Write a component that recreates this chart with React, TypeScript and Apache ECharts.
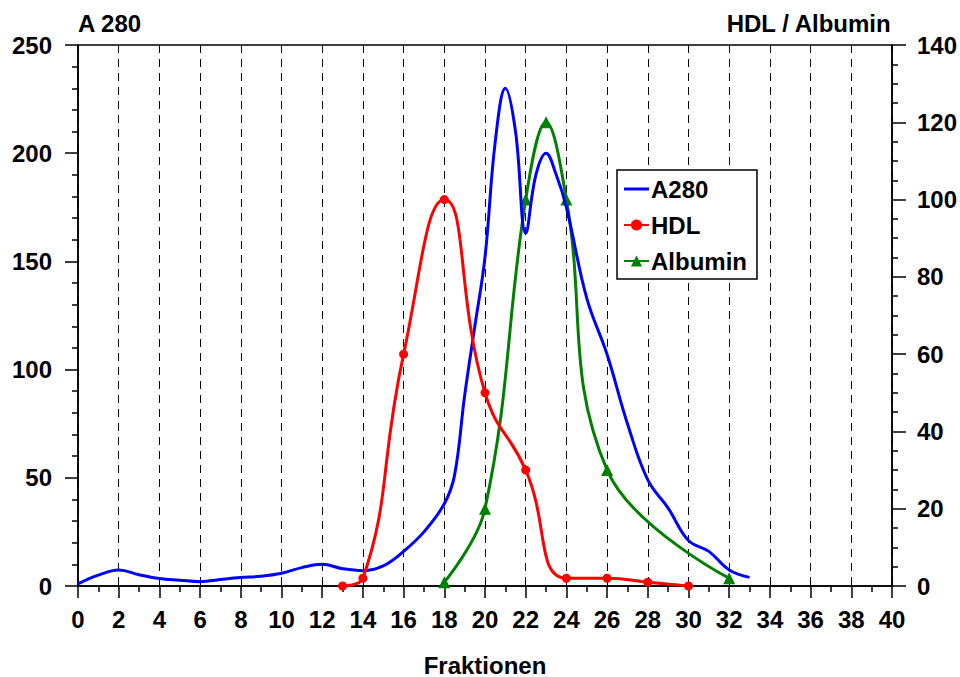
import React, { useEffect, useRef } from "react";
import * as echarts from "echarts";

const a280Data: [number, number][] = [
  [0, 1], [1, 5], [2, 7.4], [3, 5.2], [4, 3.5], [5, 2.7], [6, 2], [7, 3], [8, 3.9], [9, 4.5],
  [10, 5.9], [11, 8.5], [12, 10], [13, 8], [14, 7.1], [15, 9.3], [16, 16], [17, 25], [18, 38],
  [18.5, 51], [19, 88], [19.5, 120], [20, 152], [20.5, 205], [21, 230], [21.5, 210], [22, 163],
  [22.5, 190], [23, 200], [23.5, 190], [24, 175], [25, 133], [26, 107], [27, 75], [28, 49],
  [29, 36], [30, 21], [31, 16], [32, 7.4], [33, 4],
];
const hdlData: [number, number][] = [
  [13, 0], [14, 2], [16, 60], [18, 100], [20, 50], [22, 30], [24, 2], [26, 2], [28, 1], [30, 0],
];
const albuminData: [number, number][] = [
  [18, 1], [20, 20], [22, 100], [23, 120], [24, 100], [26, 30], [32, 2],
];
const xTitle = "Fraktionen";
const leftTitle = "A 280";
const rightTitle = "HDL / Albumin";

const FONT = "Liberation Sans, Arial, Helvetica, sans-serif";
const FS = 24;

export default function App() {
  const ref = useRef<HTMLDivElement>(null);
  useEffect(() => {
    if (!ref.current) return;
    const chart = echarts.init(ref.current, undefined, { renderer: "svg" });
    const labelStyle = { color: "#000", fontWeight: "bold" as const, fontSize: FS, fontFamily: FONT };
    chart.setOption({
      animation: false,
      backgroundColor: "#fff",
      grid: {
        left: 78, right: 68, top: 45, bottom: 91,
        outerBoundsMode: "none",
        containLabel: false,
        show: true, borderColor: "#000", borderWidth: 1.5, backgroundColor: "transparent",
      },
      legend: {
        orient: "vertical",
        left: 617,
        top: 170,
        padding: [7, 10, 6, 6],
        itemGap: 12,
        itemWidth: 25,
        itemHeight: 14,
        borderColor: "#000",
        borderWidth: 1.5,
        backgroundColor: "#fff",
        textStyle: { color: "#000", fontWeight: "bold", fontSize: FS, fontFamily: FONT, padding: [0, 0, 0, -3] },
        data: [
          { name: "A280", icon: "path://M0,0M0,5.5H25V8.5H0ZM25,14" },
          { name: "HDL" },
          { name: "Albumin" },
        ],
      },
      graphic: [
        { type: "text", left: 78, top: 11, style: { text: leftTitle, fill: "#000", font: `bold ${FS}px ${FONT}` } },
        { type: "text", right: 68, top: 11, style: { text: rightTitle, fill: "#000", font: `bold ${FS}px ${FONT}` } },
        {
          type: "text", x: 485, y: 665,
          style: { text: xTitle, fill: "#000", font: `bold ${FS}px ${FONT}`, align: "center", verticalAlign: "middle" },
        },
      ],
      xAxis: {
        type: "value",
        min: 0,
        max: 40,
        interval: 2,
        axisLine: { show: true, lineStyle: { color: "#000", width: 1.5 } },
        axisTick: { show: true, length: 12, lineStyle: { color: "#000", width: 1.5 } },
        minorTick: { show: true, splitNumber: 2, length: 6, lineStyle: { color: "#000", width: 1.5 } },
        axisLabel: { ...labelStyle, margin: 21 },
        splitLine: { show: true, lineStyle: { color: "#000", type: [8, 6], width: 1 } },
      },
      yAxis: [
        {
          type: "value",
          min: 0,
          max: 250,
          interval: 50,
          position: "left",
          axisLine: { show: true, lineStyle: { color: "#000", width: 1.5 } },
          axisTick: { show: true, length: 13, lineStyle: { color: "#000", width: 1.5 } },
          minorTick: { show: true, splitNumber: 5, length: 6, lineStyle: { color: "#000", width: 1.5 } },
          axisLabel: { ...labelStyle, margin: 26 },
          splitLine: { show: false },
        },
        {
          type: "value",
          min: 0,
          max: 140,
          interval: 20,
          position: "right",
          axisLine: { show: true, lineStyle: { color: "#000", width: 1.5 } },
          axisTick: { show: true, length: 14, lineStyle: { color: "#000", width: 1.5 } },
          minorTick: { show: true, splitNumber: 4, length: 6, lineStyle: { color: "#000", width: 1.5 } },
          axisLabel: { ...labelStyle, margin: 25 },
          splitLine: { show: false },
        },
      ],
      series: [
        {
          name: "A280",
          type: "line",
          yAxisIndex: 0,
          data: a280Data,
          smooth: 0.4,
          symbol: "none",
          lineStyle: { color: "#0000ff", width: 3 },
          itemStyle: { color: "#0000ff" },
          z: 3,
        },
        {
          name: "HDL",
          type: "line",
          yAxisIndex: 1,
          data: hdlData,
          smooth: 0.5,
          symbol: "circle",
          symbolSize: 9,
          lineStyle: { color: "#ff0000", width: 3 },
          itemStyle: { color: "#ff0000" },
          z: 4,
        },
        {
          name: "Albumin",
          type: "line",
          yAxisIndex: 1,
          data: albuminData,
          smooth: 0.4,
          symbol: "triangle",
          symbolSize: 12,
          lineStyle: { color: "#008000", width: 3 },
          itemStyle: { color: "#008000" },
          z: 2,
        },
      ],
    });
    return () => chart.dispose();
  }, []);
  return <div ref={ref} style={{ position: "absolute", left: 0, top: 0, width: 960, height: 677 }} />;
}
